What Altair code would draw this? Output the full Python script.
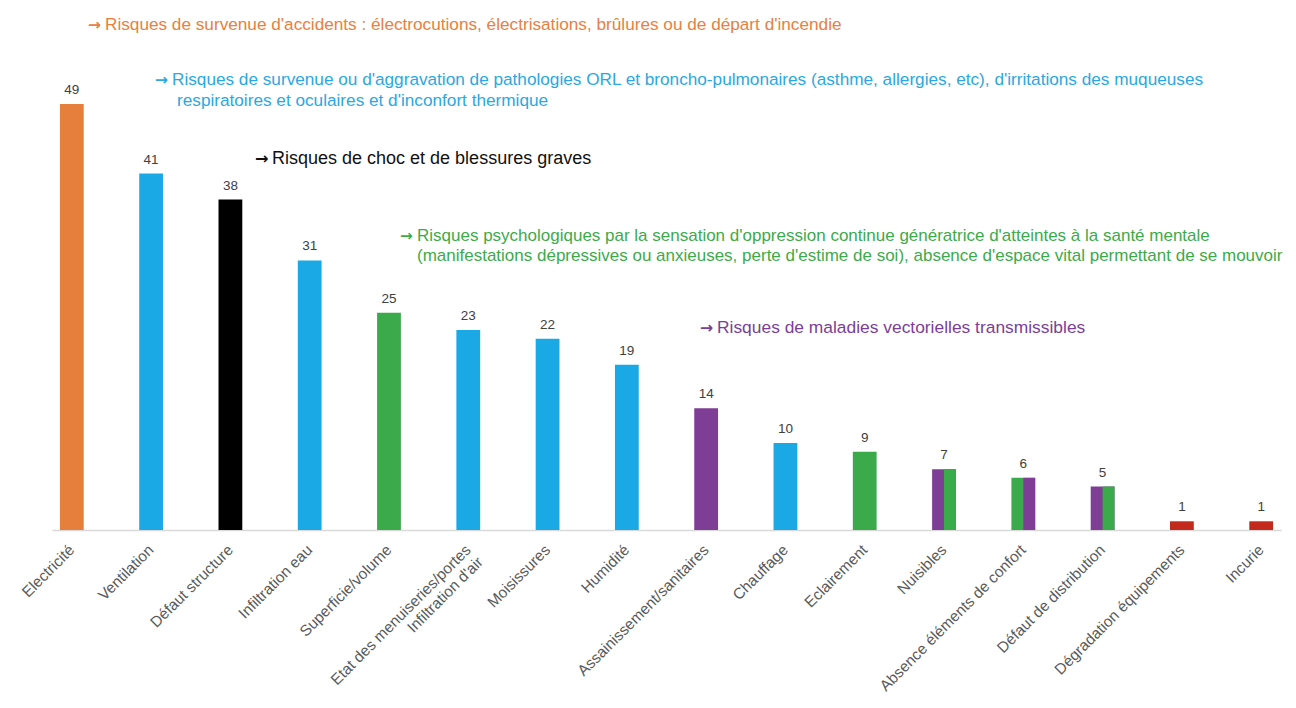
import altair as alt
import pandas as pd

categories = ["Electricité", "Ventilation", "Défaut structure", "Infiltration eau",
              "Superficie/volume", "Etat des menuiseries/portes|Infiltration d'air",
              "Moisissures", "Humidité", "Assainissement/sanitaires", "Chauffage",
              "Eclairement", "Nuisibles", "Absence éléments de confort",
              "Défaut de distribution", "Dégradation équipements", "Incurie"]
values = [49, 41, 38, 31, 25, 23, 22, 19, 14, 10, 9, 7, 6, 5, 1, 1]
left_group = ["accidents", "respiratoire", "choc", "respiratoire", "psycho", "respiratoire",
              "respiratoire", "respiratoire", "vecteurs", "respiratoire", "psycho",
              "vecteurs", "psycho", "vecteurs", "autre", "autre"]
right_group = ["accidents", "respiratoire", "choc", "respiratoire", "psycho", "respiratoire",
               "respiratoire", "respiratoire", "vecteurs", "respiratoire", "psycho",
               "psycho", "vecteurs", "psycho", "autre", "autre"]

group_domain = ["accidents", "respiratoire", "choc", "psycho", "vecteurs", "autre"]
group_colors = ["#E67E3C", "#1BA9E6", "#000000", "#3AAA4A", "#7E3E96", "#C4291D"]

full_df = pd.DataFrame({"cat": categories, "value": values, "group": left_group})
split_rows = [{"cat": c, "value": v, "half": "b", "group": rg}
              for c, v, lg, rg in zip(categories, values, left_group, right_group) if lg != rg]
split_df = pd.DataFrame(split_rows)

xscale = alt.Scale(domain=categories, paddingInner=0.7, paddingOuter=0.1)
yscale = alt.Scale(domain=[0, 59], nice=False)
cscale = alt.Scale(domain=group_domain, range=group_colors)

xaxis = alt.Axis(title=None, labelAngle=-45, labelAlign="right", labelBaseline="middle",
                 labelFont="Liberation Sans", labelFontSize=15.4, labelColor="#5A5A5A",
                 labelPadding=17, ticks=False, domainColor="#D9D9D9", domainWidth=1.5,
                 labelExpr="split(datum.label, '|')", labelLineHeight=17, labelLimit=0)

bars = alt.Chart(full_df).mark_bar().encode(
    x=alt.X("cat:N", scale=xscale, axis=xaxis, sort=categories),
    y=alt.Y("value:Q", scale=yscale, axis=None),
    color=alt.Color("group:N", scale=cscale, legend=None),
)

halves = alt.Chart(split_df).mark_bar().encode(
    x=alt.X("cat:N", scale=xscale, sort=categories),
    xOffset=alt.XOffset("half:N", scale=alt.Scale(domain=["a", "b"], paddingInner=0, paddingOuter=0)),
    y=alt.Y("value:Q", scale=yscale),
    color=alt.Color("group:N", scale=cscale, legend=None),
)

vlabels = alt.Chart(full_df).mark_text(dy=-14, font="Liberation Sans", fontSize=13.5,
                                       color="#404040").encode(
    x=alt.X("cat:N", scale=xscale, sort=categories),
    y=alt.Y("value:Q", scale=yscale),
    text="value:Q",
)

def note(txt, x, y, color, size=17, arrow=True):
    layers = []
    if arrow:
        layers.append(alt.Chart(pd.DataFrame({"t": ["→"]})).mark_text(
            align="left", baseline="middle", font="DejaVu Sans", fontSize=size * 0.9,
            fontWeight="bold", color=color).encode(x=alt.value(x), y=alt.value(y), text="t:N"))
        x = x + 17
    layers.append(alt.Chart(pd.DataFrame({"t": [txt]})).mark_text(
        align="left", baseline="middle", font="Liberation Sans", fontSize=size, color=color
    ).encode(x=alt.value(x), y=alt.value(y), text="t:N"))
    return layers

notes = []
notes += note("Risques de survenue d'accidents : électrocutions, électrisations, brûlures ou de départ d'incendie",
              36, 8, "#E8803E", 17.2)
notes += note("Risques de survenue ou d'aggravation de pathologies ORL et broncho-pulmonaires (asthme, allergies, etc), d'irritations des muqueuses",
              103, 63, "#2AA8E2", 17.2)
notes += note("respiratoires et oculaires et d'inconfort thermique", 125, 84, "#2AA8E2", 17.2, arrow=False)
notes += note("Risques de choc et de blessures graves", 203, 142, "#111111", 18)
notes += note("Risques psychologiques par la sensation d'oppression continue génératrice d'atteintes à la santé mentale",
              348, 219, "#3DAA4B", 17.0)
notes += note("(manifestations dépressives ou anxieuses, perte d'estime de soi), absence d'espace vital permettant de se mouvoir",
              365, 239, "#3DAA4B", 17.0, arrow=False)
notes += note("Risques de maladies vectorielles transmissibles", 648, 311, "#7B3F98", 17.4)

chart = alt.layer(bars, halves, vlabels, *notes).properties(
    width=1229, height=513,
    autosize="none",
    padding={"left": 44, "top": 9, "right": 7, "bottom": 170},
).configure_view(stroke=None)

chart.save("out.html", embed_options={"renderer": "svg", "actions": False})
